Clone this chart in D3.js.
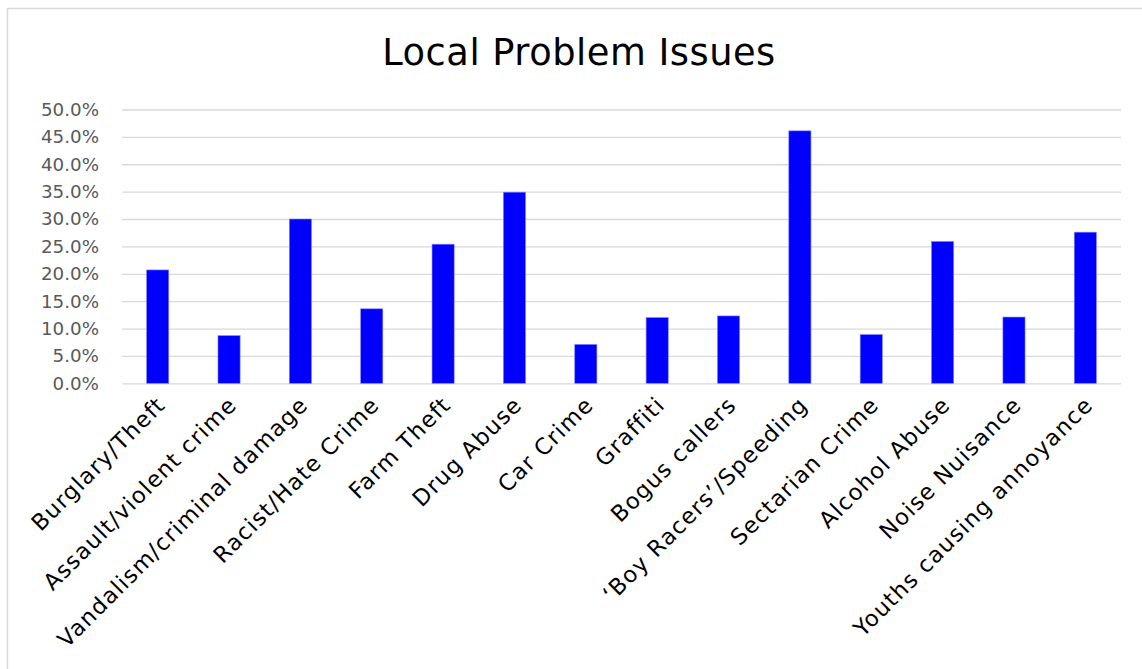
<!DOCTYPE html>
<html>
<head>
<meta charset="utf-8">
<script src="https://cdn.jsdelivr.net/npm/d3@7"></script>
<style>
  html, body { margin: 0; padding: 0; background: #fff; }
  svg { display: block; }
</style>
</head>
<body>
<script>
// Share of respondents naming each issue as a local problem
const categories = [
  "Burglary/Theft", "Assault/violent crime", "Vandalism/criminal damage",
  "Racist/Hate Crime", "Farm Theft", "Drug Abuse", "Car Crime", "Graffiti",
  "Bogus callers", "\u2018Boy Racers\u2019/Speeding", "Sectarian Crime",
  "Alcohol Abuse", "Noise Nuisance", "Youths causing annoyance"
];
const values = [0.207, 0.087, 0.300, 0.136, 0.254, 0.349, 0.071, 0.120,
                0.123, 0.461, 0.089, 0.259, 0.121, 0.276];
const yTicks = [0, 0.05, 0.10, 0.15, 0.20, 0.25, 0.30, 0.35, 0.40, 0.45, 0.50];
const title = "Local Problem Issues";

const W = 1142, H = 669;
const plot = { left: 122, right: 1121, top: 109.5, bottom: 383.3 };
const font = "'DejaVu Sans', Verdana, sans-serif";

const svg = d3.select("body").append("svg")
  .attr("width", W).attr("height", H);

// chart frame
svg.append("rect")
  .attr("x", 7.5).attr("y", 8.5)
  .attr("width", W + 10).attr("height", H + 10)
  .attr("fill", "#fff").attr("stroke", "#d9d9d9").attr("stroke-width", 1.5);

svg.append("text")
  .attr("x", 579).attr("y", 65)
  .attr("text-anchor", "middle")
  .attr("font-family", font).attr("font-size", 36.8)
  .attr("letter-spacing", 0.5)
  .attr("fill", "#000")
  .text(title);

const x = d3.scaleBand()
  .domain(categories)
  .range([plot.left, plot.right])
  .paddingInner(0.69).paddingOuter(0.345);

const y = d3.scaleLinear()
  .domain([0, 0.5])
  .range([plot.bottom, plot.top]);

// horizontal gridlines + percentage labels
const yAxis = d3.axisLeft(y)
  .tickValues(yTicks)
  .tickFormat(d3.format(".1%"))
  .tickSize(-(plot.right - plot.left))
  .tickPadding(23);

const gy = svg.append("g")
  .attr("transform", `translate(${plot.left},0)`)
  .call(yAxis);
gy.select(".domain").remove();
gy.selectAll(".tick line").attr("stroke", "#d9d9d9").attr("stroke-width", 1.3);
gy.selectAll(".tick text")
  .attr("font-family", font).attr("font-size", 18.3)
  .attr("fill", "#595959");

// bars
svg.append("g").selectAll("rect")
  .data(values)
  .join("rect")
  .attr("x", (d, i) => x(categories[i]))
  .attr("width", x.bandwidth())
  .attr("y", d => y(d))
  .attr("height", d => y(0) - y(d))
  .attr("fill", "#0000ff")
  .attr("stroke", "#7f7fff").attr("stroke-width", 0.6);

// rotated category labels
const xAxis = d3.axisBottom(x).tickSize(0).tickPadding(0);
const gx = svg.append("g")
  .attr("transform", `translate(0,${plot.bottom})`)
  .call(xAxis);
gx.select(".domain").remove();
gx.selectAll(".tick text")
  .attr("font-family", font).attr("font-size", 22.5)
  .attr("letter-spacing", 1.2)
  .attr("fill", "#000")
  .attr("text-anchor", "end")
  .attr("dy", null).attr("y", null)
  .attr("transform", "translate(9,23) rotate(-45)");
</script>
</body>
</html>
